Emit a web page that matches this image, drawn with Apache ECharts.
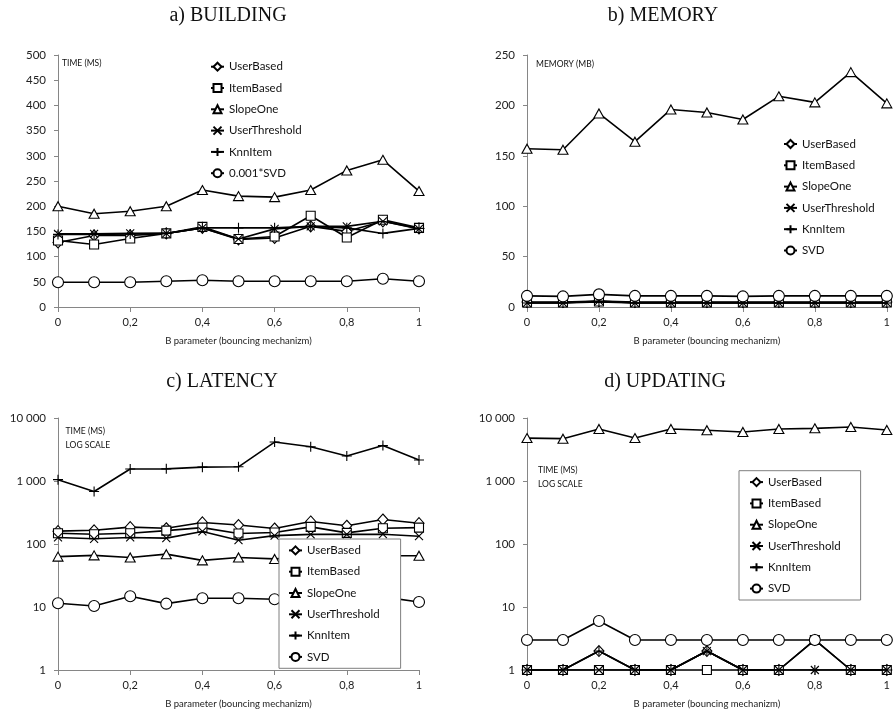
<!DOCTYPE html>
<html>
<head>
<meta charset="utf-8">
<script src="https://cdn.jsdelivr.net/npm/echarts@6/dist/echarts.min.js"></script>
<style>html,body{margin:0;padding:0;background:#fff;}#c{width:893px;height:717px;}</style>
</head>
<body>
<div id="c"></div>
<script>
// ---- data ----
const xValues = [0, 0.1, 0.2, 0.3, 0.4, 0.5, 0.6, 0.7, 0.8, 0.9, 1];
const seriesNames = ['UserBased', 'ItemBased', 'SlopeOne', 'UserThreshold', 'KnnItem', 'SVD'];
const buildingSvdName = '0.001*SVD';

// a) BUILDING (time, ms)
const buildUserBased     = [128, 142, 142, 146, 157, 134, 137, 160, 150, 170, 156];
const buildItemBased     = [132, 124, 136, 146, 159, 135, 140, 181, 138, 173, 157];
const buildSlopeOne      = [200, 185, 190, 200, 232, 220, 218, 232, 271, 292, 230];
const buildUserThreshold = [145, 145, 146, 146, 157, 135, 155, 160, 160, 170, 155];
const buildKnnItem       = [144, 144, 145, 146, 157, 157, 157, 160, 157, 146, 156];
const buildSvd           = [49, 49, 49, 51, 53, 51, 51, 51, 51, 56, 51];

// b) MEMORY (MB)
const memUserBased     = [5, 5, 6, 5, 5, 5, 5, 5, 5, 5, 5];
const memItemBased     = [4.5, 4.5, 5.5, 4.5, 4.5, 4.5, 4.5, 4.5, 4.5, 4.5, 4.5];
const memSlopeOne      = [157, 156, 192, 164, 196, 193, 186, 209, 203, 233, 202];
const memUserThreshold = [4, 4, 6, 4, 4, 4, 4, 4, 4, 4, 4];
const memKnnItem       = [4, 4, 5, 4, 4, 4, 4, 4, 4, 4, 4];
const memSvd           = [11, 10.5, 12.5, 11, 11, 11, 10.5, 11, 11, 11, 11];

// c) LATENCY (time, ms, log)
const latUserBased     = [160, 165, 185, 178, 220, 200, 176, 228, 195, 245, 214];
const latItemBased     = [148, 143, 148, 163, 182, 147, 152, 187, 150, 178, 182];
const latSlopeOne      = [63, 66, 61, 69, 55, 61, 58, 62, 63, 65, 65];
const latUserThreshold = [127, 121, 127, 124, 158, 115, 136, 142, 142, 143, 133];
const latKnnItem       = [1050, 680, 1550, 1560, 1660, 1680, 4150, 3500, 2500, 3650, 2150];
const latSvd           = [11.5, 10.4, 14.8, 11.3, 13.8, 13.8, 13.3, 14, 14, 14.5, 12];

// d) UPDATING (time, ms, log)
const updUserBased     = [1, 1, 2, 1, 1, 2, 1, 1, 3, 1, 1];
const updItemBased     = [1, 1, 1, 1, 1, 1, 1, 1, 3, 1, 1];
const updSlopeOne      = [4800, 4700, 6700, 4800, 6700, 6400, 6000, 6700, 6850, 7200, 6450];
const updUserThreshold = [1, 1, 1, 1, 1, 2, 1, 1, 1, 1, 1];
const updKnnItem       = [1, 1, 2, 1, 1, 2, 1, 1, 1, 1, 1];
const updSvd           = [3, 3, 6, 3, 3, 3, 3, 3, 3, 3, 3];

const xTicks = [0, 0.2, 0.4, 0.6, 0.8, 1];
const panelTitles = ['a) BUILDING', 'b) MEMORY', 'c) LATENCY', 'd) UPDATING'];
const xAxisName = 'B parameter (bouncing mechanizm)';

// ---- styling ----
const symbols = {
  UserBased: {symbol: 'diamond', size: [10, 11]},
  ItemBased: {symbol: 'rect', size: 9},
  SlopeOne: {symbol: 'triangle', size: [10, 9]},
  UserThreshold: {symbol: 'path://M0,0L10,10M10,0L0,10', size: 8},
  KnnItem: {symbol: 'path://M5,0L5,10M0,5L10,5', size: 10},
  SVD: {symbol: 'circle', size: 11}
};
symbols[buildingSvdName] = symbols.SVD;

const panels = [
  {data: [buildUserBased, buildItemBased, buildSlopeOne, buildUserThreshold, buildKnnItem, buildSvd], svd: buildingSvdName},
  {data: [memUserBased, memItemBased, memSlopeOne, memUserThreshold, memKnnItem, memSvd], svd: 'SVD'},
  {data: [latUserBased, latItemBased, latSlopeOne, latUserThreshold, latKnnItem, latSvd], svd: 'SVD'},
  {data: [updUserBased, updItemBased, updSlopeOne, updUserThreshold, updKnnItem, updSvd], svd: 'SVD'}
];

const labelFont = 'Lato';
const axisColor = '#868686';

const grids = [
  {left: 58, right: 474, top: 55, bottom: 410},
  {left: 527, right: 5, top: 55, bottom: 410},
  {left: 58, right: 474, top: 418, bottom: 47},
  {left: 527, right: 5, top: 418, bottom: 47}
];

function thousands(v) {
  return String(Math.round(v)).replace(/\B(?=(\d{3})+(?!\d))/g, ' ');
}

const xAxes = grids.map((g, i) => ({
  type: 'value', gridIndex: i, min: 0, max: 1, interval: 0.2,
  axisLine: {show: true, lineStyle: {color: axisColor, width: 1}},
  axisTick: {show: true, length: 5, lineStyle: {color: axisColor}},
  splitLine: {show: false},
  axisLabel: {margin: 10, color: '#222', fontFamily: labelFont, fontSize: 11,
    formatter: v => String(+v.toFixed(1)).replace('.', ',')},
  name: xAxisName, nameLocation: 'middle', nameGap: 29,
  nameTextStyle: {fontFamily: labelFont, fontSize: 9.5, color: '#222'}
}));

const yAxes = [
  {type: 'value', gridIndex: 0, min: 0, max: 500, interval: 50},
  {type: 'value', gridIndex: 1, min: 0, max: 250, interval: 50},
  {type: 'log', gridIndex: 2, min: 1, max: 10000, logBase: 10},
  {type: 'log', gridIndex: 3, min: 1, max: 10000, logBase: 10}
].map(a => Object.assign(a, {
  axisLine: {show: true, lineStyle: {color: axisColor, width: 1}},
  axisTick: {show: true, length: 4, lineStyle: {color: axisColor}},
  splitLine: {show: false},
  minorTick: {show: false},
  axisLabel: {margin: 12, color: '#222', fontFamily: labelFont, fontSize: 11.5,
    formatter: a.type === 'log' ? thousands : (v => String(v))}
}));

const series = [];
panels.forEach((p, pi) => {
  seriesNames.forEach((n, si) => {
    const name = si === 5 ? p.svd : n;
    const s = symbols[name];
    series.push({
      type: 'line', name: name, xAxisIndex: pi, yAxisIndex: pi,
      data: xValues.map((x, k) => [x, p.data[si][k]]),
      symbol: s.symbol, symbolSize: s.size, showAllSymbol: true,
      lineStyle: {color: '#000', width: 1.6},
      itemStyle: {color: '#fff', borderColor: '#000', borderWidth: 1.1},
      emphasis: {disabled: true},
      z: 2 + si * 0.01
    });
  });
});

function legendNames(p) {
  return seriesNames.map((n, i) => i === 5 ? p.svd : n);
}

const legendCommon = {
  orient: 'vertical', selectedMode: false, itemWidth: 13, itemHeight: 10, itemGap: 9.3,
  textStyle: {fontFamily: labelFont, fontSize: 11.5, color: '#111', lineHeight: 12}
};

const legends = [
  Object.assign({}, legendCommon, {data: legendNames(panels[0]), left: 210, top: 60.7, padding: 0}),
  Object.assign({}, legendCommon, {data: legendNames(panels[1]), left: 783, top: 138, padding: 0}),
  Object.assign({}, legendCommon, {data: legendNames(panels[2]), left: 279, top: 539, padding: [5.4, 21, 5.4, 9],
    backgroundColor: '#fff', borderColor: '#7f7f7f', borderWidth: 1}),
  Object.assign({}, legendCommon, {data: legendNames(panels[3]), left: 739, top: 470.7, padding: [5.4, 20, 5.4, 10],
    backgroundColor: '#fff', borderColor: '#7f7f7f', borderWidth: 1})
];

function txt(x, y, text, size, family, align) {
  return {type: 'text', x: x, y: y, silent: true,
    style: {text: text, fontSize: size, fontFamily: family, fill: '#111', align: align || 'left', verticalAlign: 'middle'}};
}

const graphics = [
  txt(228, 16, panelTitles[0], 20, 'Liberation Serif', 'center'),
  txt(663, 16, panelTitles[1], 20, 'Liberation Serif', 'center'),
  txt(222, 382, panelTitles[2], 20, 'Liberation Serif', 'center'),
  txt(665, 382, panelTitles[3], 20, 'Liberation Serif', 'center'),
  txt(62, 63.5, 'TIME (MS)', 8.5, labelFont),
  txt(536, 64, 'MEMORY (MB)', 8.5, labelFont),
  txt(65.5, 431.5, 'TIME (MS)', 8.5, labelFont),
  txt(65.5, 445.5, 'LOG SCALE', 8.5, labelFont),
  txt(538, 470, 'TIME (MS)', 8.5, labelFont),
  txt(538, 484, 'LOG SCALE', 8.5, labelFont)
];

const chart = echarts.init(document.getElementById('c'), null, {renderer: 'canvas'});
chart.setOption({
  animation: false,
  backgroundColor: '#fff',
  grid: grids,
  xAxis: xAxes,
  yAxis: yAxes,
  legend: legends,
  series: series,
  graphic: graphics
});
</script>
</body>
</html>
